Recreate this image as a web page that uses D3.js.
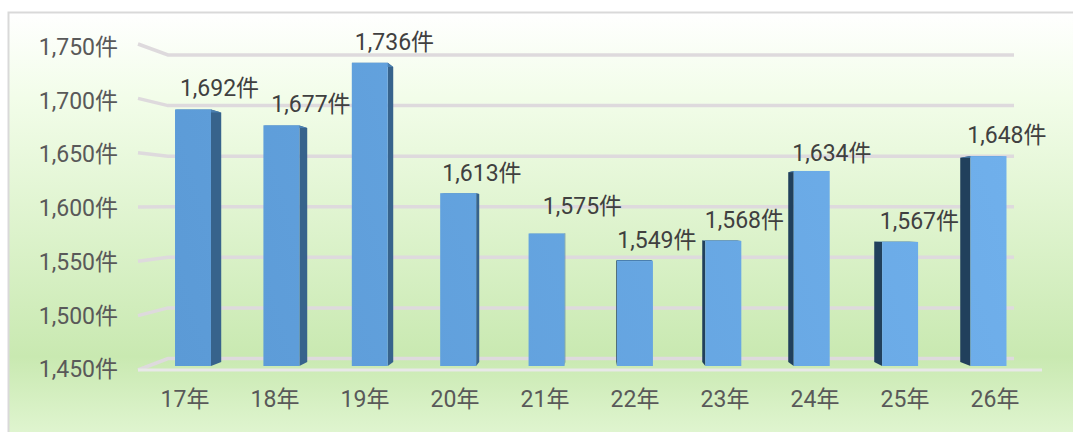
<!DOCTYPE html>
<html>
<head>
<meta charset="utf-8">
<script src="https://cdn.jsdelivr.net/npm/d3@7"></script>
<style>
body { margin: 0; background: #fff; }
text { font-family: Roboto, "Noto Sans CJK JP", sans-serif; }
</style>
</head>
<body>
<script>
let years = ["17年","18年","19年","20年","21年","22年","23年","24年","25年","26年"]
let counts = [1692,1677,1736,1613,1575,1549,1568,1634,1567,1648]
let ticks = [1450,1500,1550,1600,1650,1700,1750]

let width = 1073
let height = 432
let fontSize = 23

// one point perspective, bars shrink toward this point
let vanish = {x: 590, y: 220}
let depth = 0.027
let back = (x, y) => [x + (vanish.x - x) * depth, y + (vanish.y - y) * depth]

let svg = d3.select("body").append("svg")
    .attr("width", width)
    .attr("height", height)
    .style("display", "block")

let defs = svg.append("defs")

let grad = defs.append("linearGradient")
    .attr("id", "bg").attr("x1", 0).attr("y1", 0).attr("x2", 0).attr("y2", 1)
let stops = [[0, "#ffffff"], [0.2, "#f2fde9"], [0.8, "#c9e9b1"], [1, "#e2f6d3"]]
stops.forEach(s => grad.append("stop").attr("offset", s[0]).attr("stop-color", s[1]))

// the frame runs off the right and bottom of the picture
svg.append("rect")
    .attr("x", 8.5).attr("y", 12.5)
    .attr("width", 1080).attr("height", 430)
    .attr("fill", "url(#bg)")
    .attr("stroke", "#d9d9d9")
    .attr("stroke-width", 2)

let x = d3.scaleBand().domain(years).range([148.5, 1033]).paddingInner(0.593).paddingOuter(0.3)
// axis labels sit on the front edge, so they are spread wider than the bars
let xLabel = d3.scaleBand().domain(years).range([140, 1040])
let yBar = d3.scaleLinear().domain([1450, 1750]).range([366, 48])
let yWall = d3.scaleLinear().domain([1450, 1750]).range([358.5, 55])
let yFront = d3.scaleLinear().domain([1450, 1750]).range([370, 44])
let yLabel = d3.scaleLinear().domain([1450, 1750]).range([369.5, 47])

// wall lines, running in from the front edge
let grid = svg.append("g")
    .attr("fill", "none")
    .attr("stroke", "#dedadd")
    .attr("stroke-width", 3.5)

grid.selectAll("path").data(ticks).enter().append("path")
    .attr("d", d => d3.line()([[138, yFront(d)], [168, yWall(d)], [1014, yWall(d)]]))

svg.append("line")
    .attr("x1", 138).attr("x2", 1042)
    .attr("y1", yFront(1450)).attr("y2", yFront(1450))
    .attr("stroke", "#e8e8e8")
    .attr("stroke-width", 3)

let yAxis = svg.append("g")
    .attr("transform", "translate(118,0)")
    .call(d3.axisLeft(yLabel).tickValues(ticks).tickSize(0).tickPadding(0).tickFormat(d => d3.format(",")(d) + "件"))
yAxis.select(".domain").remove()
yAxis.selectAll("text").attr("font-size", fontSize).attr("fill", "#595959").style("font-family", "Roboto, 'Noto Sans CJK JP', sans-serif")

let xAxis = svg.append("g")
    .attr("transform", "translate(0,386)")
    .call(d3.axisBottom(xLabel).tickSize(0).tickPadding(0))
xAxis.select(".domain").remove()
xAxis.selectAll("text").attr("font-size", fontSize).attr("fill", "#595959").attr("dy", "0.9em").style("font-family", "Roboto, 'Noto Sans CJK JP', sans-serif")

// bars get a little lighter toward the top right of the chart
let frontFill = defs.append("linearGradient")
    .attr("id", "front").attr("gradientUnits", "userSpaceOnUse")
    .attr("x1", 175).attr("y1", 366).attr("x2", 1007).attr("y2", 100)
frontFill.append("stop").attr("offset", 0).attr("stop-color", "#5b9ad6")
frontFill.append("stop").attr("offset", 1).attr("stop-color", "#70b0ec")

let rows = years.map((y, i) => ({year: y, value: counts[i], i: i}))

let bars = svg.selectAll(".bar").data(rows).enter().append("g").attr("class", "bar")

let poly = pts => pts.map(p => p.join(",")).join(" ")

// side face, on whichever side faces the middle of the chart
bars.append("polygon")
    .attr("points", d => {
        let left = x(d.year), right = left + x.bandwidth()
        let top = yBar(d.value), bottom = yBar(1450)
        let edge = left > vanish.x ? left : right
        return poly([[edge, top], back(edge, top), back(edge, bottom), [edge, bottom]])
    })
    .attr("fill", d => x(d.year) > vanish.x ? "#21405c" : "#37638c")

bars.append("polygon")
    .attr("points", d => {
        let left = x(d.year), right = left + x.bandwidth()
        let top = yBar(d.value)
        return poly([[left, top], back(left, top), back(right, top), [right, top]])
    })
    .attr("fill", "#4a7fb0")

bars.append("rect")
    .attr("x", d => x(d.year))
    .attr("y", d => yBar(d.value))
    .attr("width", x.bandwidth())
    .attr("height", d => yBar(1450) - yBar(d.value))
    .attr("fill", "url(#front)")

// labels sit up and to the right of their bars, a few were moved by hand
let labelNudge = {"18年": 4, "21年": 13}
let labelLift = {"21年": 7, "24年": -3, "20年": -1}
svg.selectAll(".value").data(rows).enter().append("text")
    .attr("class", "value")
    .attr("x", d => x(d.year) + x.bandwidth() / 2 + 26.5 - d.i * 0.9 + (labelNudge[d.year] || 0))
    .attr("y", d => yBar(d.value) - 13 - (labelLift[d.year] || 0))
    .attr("text-anchor", "middle")
    .attr("font-size", fontSize)
    .attr("fill", "#404040")
    .text(d => d3.format(",")(d.value) + "件")
</script>
</body>
</html>
